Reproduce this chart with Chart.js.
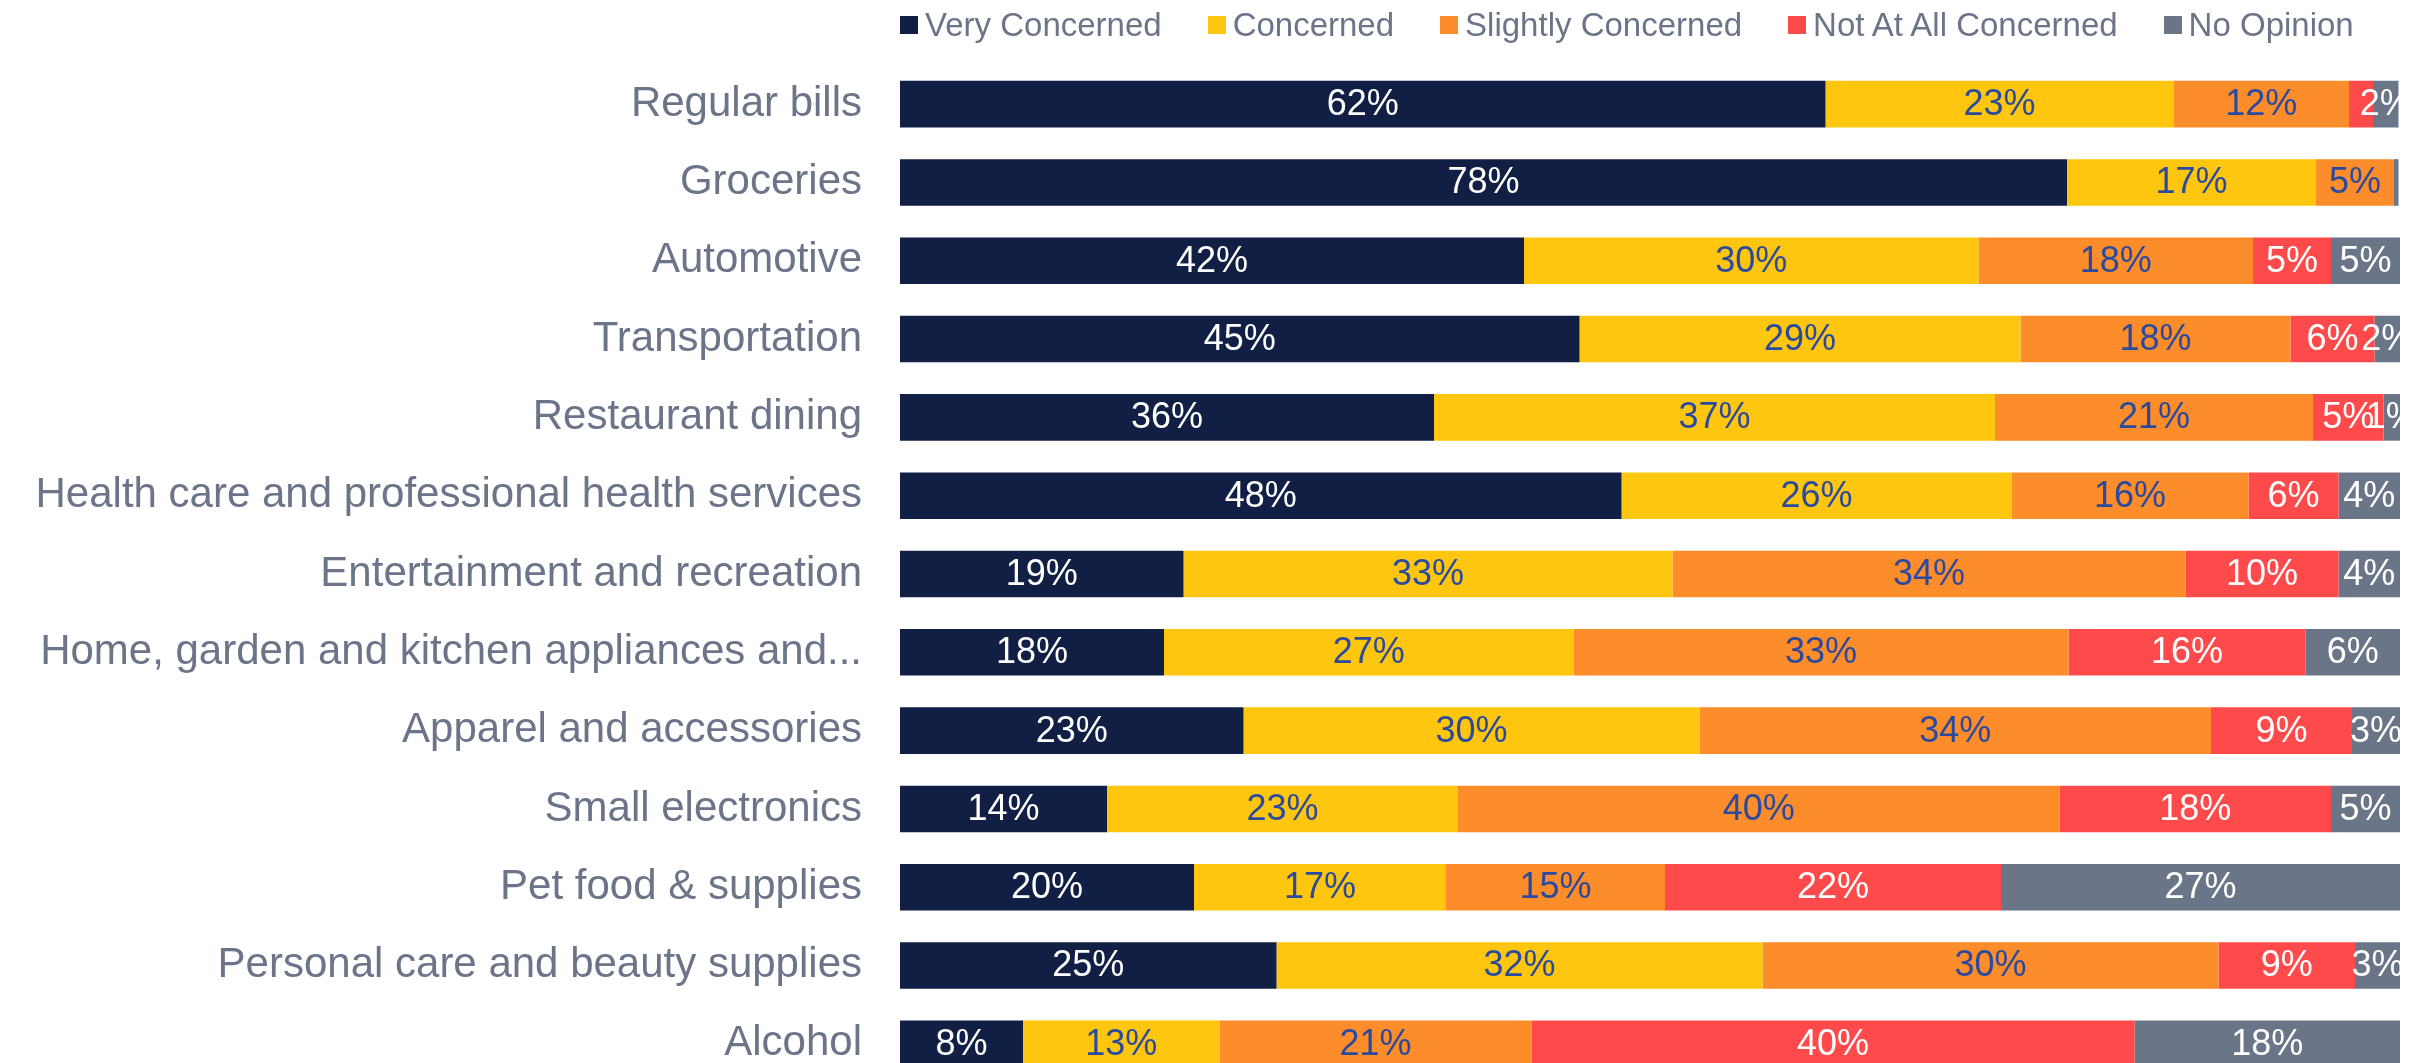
<!DOCTYPE html>
<html>
<head>
<meta charset="utf-8">
<script src="https://cdn.jsdelivr.net/npm/chart.js@4/dist/chart.umd.min.js"></script>
<style>
  html, body { margin: 0; padding: 0; background: #fff; overflow: hidden; }
  #wrap { position: relative; width: 2400px; height: 1083px; }
  #legenda {
    position: absolute; left: 900px; top: 6px; height: 38px;
    display: flex; align-items: center;
    font-family: "Liberation Sans", Arial, sans-serif; font-size: 33px; color: #6b7489;
    white-space: nowrap;
  }
  #legenda .item { display: flex; align-items: center; margin-right: 46px; }
  #legenda .caixa { width: 18px; height: 18px; margin-right: 7px; }
</style>
</head>
<body>
<div id="wrap">
  <div id="legenda"></div>
  <canvas id="concernChart" width="2400" height="1083"></canvas>
</div>
<script>
// Categorias (eixo Y)
const categorias = [
  "Regular bills",
  "Groceries",
  "Automotive",
  "Transportation",
  "Restaurant dining",
  "Health care and professional health services",
  "Entertainment and recreation",
  "Home, garden and kitchen appliances and...",
  "Apparel and accessories",
  "Small electronics",
  "Pet food & supplies",
  "Personal care and beauty supplies",
  "Alcohol"
];

// Percentuais por série
const muitoPreocupado = [61.7, 77.8, 41.6, 45.3, 35.6, 48.1, 18.9, 17.6, 22.9, 13.8, 19.6, 25.1, 8.2];
const preocupado      = [23.2, 16.6, 30.3, 29.4, 37.4, 26.0, 32.6, 27.3, 30.4, 23.4, 16.8, 32.4, 13.1];
const poucoPreocupado = [11.7, 5.2, 18.3, 18.0, 21.2, 15.8, 34.2, 33.0, 34.1, 40.1, 14.6, 30.4, 20.8];
const nadaPreocupado  = [1.6, 0, 5.2, 5.6, 4.7, 6.0, 10.2, 15.8, 9.4, 18.1, 22.4, 9.1, 40.2];
const semOpiniao      = [1.7, 0.3, 4.6, 1.7, 1.1, 4.1, 4.1, 6.3, 3.2, 4.6, 26.6, 3.0, 17.7];

const series = ["Very Concerned", "Concerned", "Slightly Concerned", "Not At All Concerned", "No Opinion"];

const cores = ['#111f44', '#fec60f', '#fd8c2a', '#ff4a4b', '#6b7588'];
const coresTexto = ['#ffffff', '#2a4a9f', '#2a4a9f', '#ffffff', '#ffffff'];

const fonte = '"Liberation Sans", Arial, sans-serif';

// Plugin simples para escrever os rótulos no meio de cada segmento
const rotulosPlugin = {
  id: 'rotulos',
  afterDatasetsDraw(chart) {
    const ctx = chart.ctx;
    const area = chart.chartArea;
    ctx.save();
    ctx.beginPath();
    ctx.rect(area.left, 0, area.right - area.left, chart.height);
    ctx.clip();
    ctx.font = '36px ' + fonte;
    ctx.textAlign = 'center';
    ctx.textBaseline = 'middle';
    const n = chart.data.labels.length;
    for (let i = 0; i < n; i++) {
      const ocupados = [];
      // a última série tem prioridade quando os rótulos quase se cobrem
      for (let d = chart.data.datasets.length - 1; d >= 0; d--) {
        const valor = chart.data.datasets[d].data[i];
        if (Math.round(valor) < 1) continue;
        const bar = chart.getDatasetMeta(d).data[i];
        const cx = (bar.x + bar.base) / 2;
        const texto = Math.round(valor) + '%';
        const w = ctx.measureText(texto).width;
        if (ocupados.some(o => Math.abs(o - cx) < w * 0.6)) continue;
        ocupados.push(cx);
        ctx.fillStyle = coresTexto[d];
        ctx.fillText(texto, cx, bar.y + 1);
      }
    }
    ctx.restore();
  }
};

const ctx = document.getElementById('concernChart').getContext('2d');

const grafico = new Chart(ctx, {
  type: 'bar',
  data: {
    labels: categorias,
    datasets: [muitoPreocupado, preocupado, poucoPreocupado, nadaPreocupado, semOpiniao].map((valores, k) => ({
      label: series[k],
      data: valores,
      backgroundColor: cores[k],
      borderWidth: 0,
      barPercentage: 0.595,
      categoryPercentage: 1
    }))
  },
  options: {
    indexAxis: 'y',
    responsive: false,
    animation: false,
    layout: { autoPadding: false, padding: { top: 65, right: 0, bottom: 0, left: 0 } },
    scales: {
      x: {
        stacked: true,
        min: 0,
        max: 100,
        display: false
      },
      y: {
        stacked: true,
        grid: { display: false, drawTicks: false },
        border: { display: false },
        ticks: {
          color: '#6b7489',
          padding: 38,
          font: { family: fonte, size: 42 }
        },
        afterFit(scale) {
          // largura fixa do eixo e sem folga extra em cima/embaixo
          scale.width = 900;
          scale.paddingTop = 0;
          scale.paddingBottom = 0;
        }
      }
    },
    plugins: {
      legend: { display: false },
      tooltip: { enabled: false }
    }
  },
  plugins: [rotulosPlugin]
});

// Legenda em HTML montada a partir das séries do gráfico
const legenda = document.getElementById('legenda');
grafico.data.datasets.forEach(ds => {
  const item = document.createElement('div');
  item.className = 'item';
  item.innerHTML = '<span class="caixa" style="background:' + ds.backgroundColor + '"></span>' + ds.label;
  legenda.appendChild(item);
});
</script>
</body>
</html>
